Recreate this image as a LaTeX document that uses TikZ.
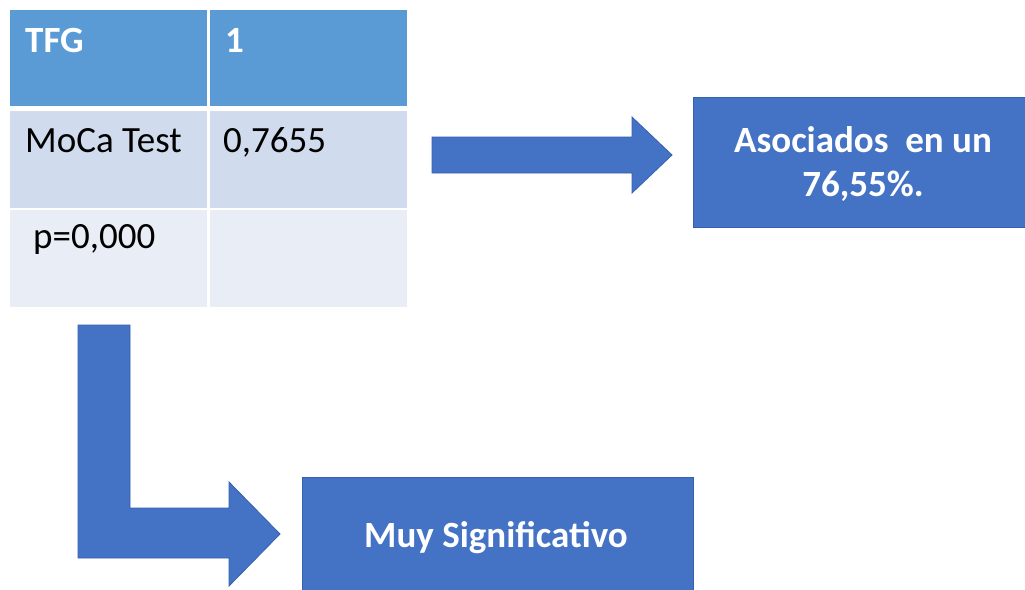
\documentclass[tikz,border=0pt]{standalone}
\usepackage{fontspec}
\setmainfont{Carlito}
\definecolor{hdr}{HTML}{5B9BD5}
\definecolor{rowa}{HTML}{D0DBEE}
\definecolor{rowb}{HTML}{E9EDF6}
\definecolor{blk}{HTML}{4472C4}
\definecolor{blkedge}{HTML}{3560AE}
\tikzset{
  cell/.style={rectangle, draw=none, inner sep=0pt, anchor=north west},
  celltext/.style={inner sep=0pt, anchor=base west, font=\fontsize{37}{44}\selectfont},
  hdrtext/.style={celltext, text=white, font=\fontsize{37}{44}\selectfont\bfseries},
  bluebox/.style={rectangle, fill=blk, draw=blkedge, line width=0.8pt, inner sep=0pt, anchor=north west},
  boxtext/.style={inner sep=0pt, text=white, align=center, font=\fontsize{37}{44}\selectfont\bfseries},
  blockarrow/.style={fill=blk, draw=blkedge, line width=0.8pt, line join=miter}
}
\begin{document}
\begin{tikzpicture}[x=1pt, y=-1pt]
\useasboundingbox (0,0) rectangle (1025,589);
\clip (0,0) rectangle (1025,589);
\fill[white] (0,0) rectangle (1025,589);
% table cells
\node[cell, fill=hdr, minimum width=197pt, minimum height=96pt] (c11) at (10,10) {};
\node[cell, fill=hdr, minimum width=197pt, minimum height=96pt] (c12) at (210,10) {};
\node[cell, fill=rowa, minimum width=197pt, minimum height=97pt] (c21) at (10,111) {};
\node[cell, fill=rowa, minimum width=197pt, minimum height=97pt] (c22) at (210,111) {};
\node[cell, fill=rowb, minimum width=197pt, minimum height=97pt] (c31) at (10,210) {};
\node[cell, fill=rowb, minimum width=197pt, minimum height=97pt] (c32) at (210,210) {};
% table texts
\node[hdrtext] (tfg) at (25,52) {TFG};
\node[hdrtext] (one) at (225,52) {1};
\node[celltext] (moca) at (25,152) {MoCa Test};
\node[celltext] (val) at (223,152) {0,7655};
\node[celltext] (pval) at (33,248) {p=0,000};
% result boxes
\node[bluebox, minimum width=340pt, minimum height=130pt] (asoc) at (693,97) {};
\node[boxtext, anchor=base] (asoct) at (863,196) {Asociados\ \ en un\\76,55\%.};
\node[bluebox, minimum width=391pt, minimum height=130pt] (muy) at (302,477) {};
\node[boxtext, anchor=base] (muyt) at (496,547) {Muy Significativo};
% right block arrow
\coordinate (ra1) at (432,137);
\coordinate (ra2) at (632,137);
\coordinate (ra3) at (632,117);
\coordinate (ratip) at (672,155);
\coordinate (ra5) at (632,193);
\coordinate (ra6) at (632,173);
\coordinate (ra7) at (432,173);
\draw[blockarrow] (ra1) -- (ra2) -- (ra3) -- (ratip) -- (ra5) -- (ra6) -- (ra7) -- cycle;
% bent block arrow
\coordinate (la1) at (78,325);
\coordinate (la2) at (130,325);
\coordinate (la3) at (130,508);
\coordinate (la4) at (229,508);
\coordinate (la5) at (229,482);
\coordinate (latip) at (280,534);
\coordinate (la7) at (229,586);
\coordinate (la8) at (229,558);
\coordinate (la9) at (78,558);
\draw[blockarrow] (la1) -- (la2) -- (la3) -- (la4) -- (la5) -- (latip) -- (la7) -- (la8) -- (la9) -- cycle;
\end{tikzpicture}
\end{document}
